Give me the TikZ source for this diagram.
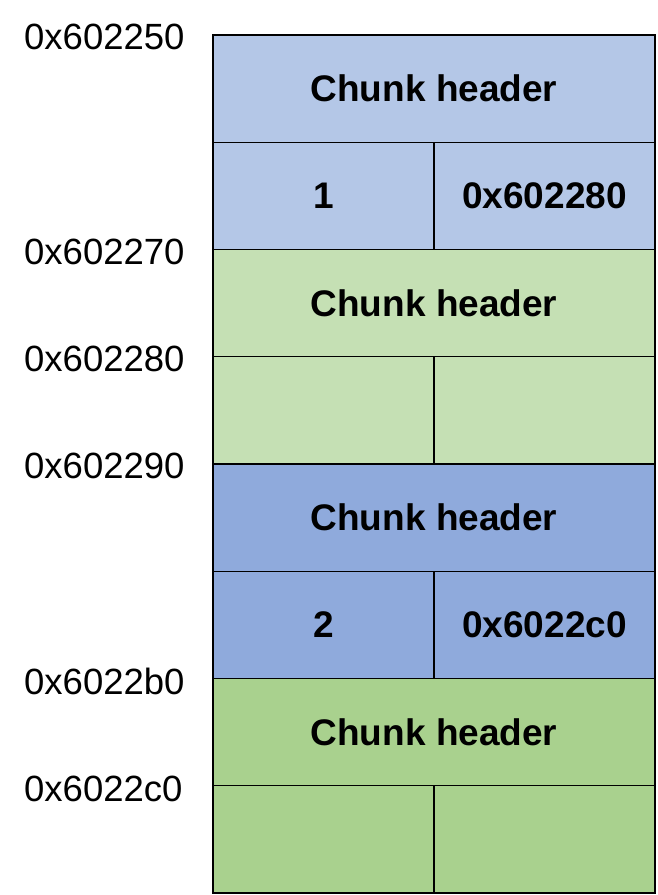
\documentclass[tikz,border=0pt]{standalone}
\usepackage{fontspec}
\setmainfont{Liberation Sans}
\usetikzlibrary{positioning}
\definecolor{blueA}{HTML}{B4C7E7}
\definecolor{greenA}{HTML}{C5E0B4}
\definecolor{blueB}{HTML}{8FAADC}
\definecolor{greenB}{HTML}{A9D18E}

\begin{document}
\begin{tikzpicture}[x=1pt, y=-1pt, font=\fontsize{36.5}{40}\selectfont,
  wide/.style={draw, line width=1.4pt, outer sep=0pt, inner sep=0pt, minimum width=442pt, minimum height=107.25pt, font=\fontsize{37}{40}\selectfont\bfseries},
  half/.style={wide, minimum width=221pt},
  addr/.style={anchor=west, inner sep=0pt}]
\useasboundingbox (0,0) rectangle (657,895);
% first chunk
\node[wide, fill=blueA, anchor=north west] (hdrA) at (213,35) {Chunk header};
\node[half, fill=blueA, below right=0pt and 0pt of hdrA.south west] (cntA) {1};
\node[half, fill=blueA, right=0pt of cntA] (ptrA) {0x602280};
% second chunk
\node[wide, fill=greenA, below right=0pt and 0pt of cntA.south west] (hdrB) {Chunk header};
\node[half, fill=greenA, below right=0pt and 0pt of hdrB.south west] (datB) {};
\node[half, fill=greenA, right=0pt of datB] (padB) {};
% third chunk
\node[wide, fill=blueB, below right=0pt and 0pt of datB.south west] (hdrC) {Chunk header};
\node[half, fill=blueB, below right=0pt and 0pt of hdrC.south west] (cntC) {2};
\node[half, fill=blueB, right=0pt of cntC] (ptrC) {0x6022c0};
% fourth chunk
\node[wide, fill=greenB, below right=0pt and 0pt of cntC.south west] (hdrD) {Chunk header};
\node[half, fill=greenB, below right=0pt and 0pt of hdrD.south west] (datD) {};
\node[half, fill=greenB, right=0pt of datD] (padD) {};
% addresses
\node[addr] (a250) at (24,37) {0x602250};
\node[addr] (a270) at (24,252) {0x602270};
\node[addr] (a280) at (24,359) {0x602280};
\node[addr] (a290) at (24,466) {0x602290};
\node[addr] (a2b0) at (24,681) {0x6022b0};
\node[addr] (a2c0) at (24,789) {0x6022c0};
\end{tikzpicture}
\end{document}
